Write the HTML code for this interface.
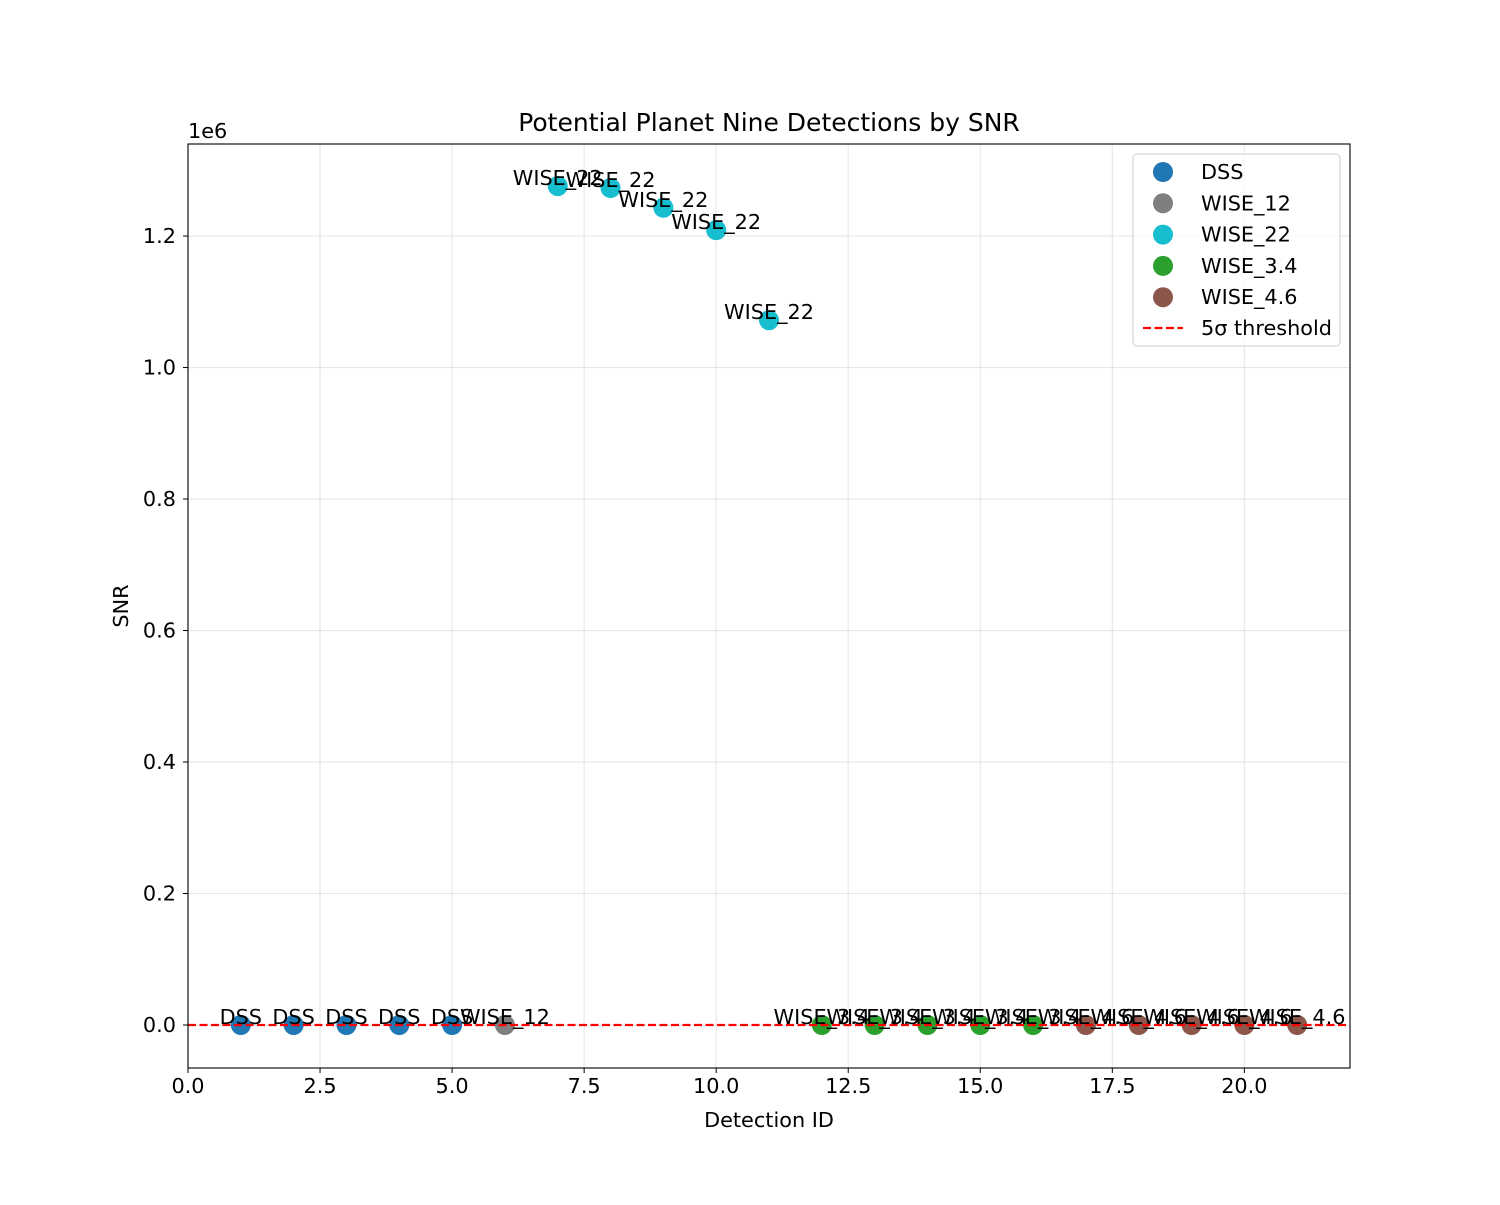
<!DOCTYPE html>
<html><head><meta charset="utf-8"><style>
body{margin:0;background:#fff;}
svg text{font-family:"DejaVu Sans","Liberation Sans",sans-serif;}
</style></head><body>
<svg id="chart" width="1500" height="1200" xmlns="http://www.w3.org/2000/svg">
<rect width="1500" height="1200" fill="#fff"/>
<g id="grid"></g>
<g id="plot"></g>
<rect x="188" y="144" width="1162" height="924" fill="none" stroke="#000" stroke-width="1.1"/>
<g id="axes"></g>
<text x="769" y="131" font-size="25" text-anchor="middle">Potential Planet Nine Detections by SNR</text>
<text x="769" y="1127" font-size="20.8" text-anchor="middle">Detection ID</text>
<text transform="translate(128,606) rotate(-90)" font-size="20.8" text-anchor="middle">SNR</text>
<text x="188" y="138" font-size="20.8">1e6</text>
<g id="legend"></g>
</svg>
<script>
const ids=[1,2,3,4,5,6,7,8,9,10,11,12,13,14,15,16,17,18,19,20,21];
const bands=["DSS","DSS","DSS","DSS","DSS","WISE_12","WISE_22","WISE_22","WISE_22","WISE_22","WISE_22","WISE_3.4","WISE_3.4","WISE_3.4","WISE_3.4","WISE_3.4","WISE_4.6","WISE_4.6","WISE_4.6","WISE_4.6","WISE_4.6"];
const snr=[8,8,8,8,8,6,1276000,1273000,1243000,1209000,1072000,10,10,10,10,10,8,8,8,8,8];
const legendBands=["DSS","WISE_12","WISE_22","WISE_3.4","WISE_4.6"];
const bandColors=["#1f77b4","#7f7f7f","#17becf","#2ca02c","#8c564b"];
const xTicks=[0,2.5,5,7.5,10,12.5,15,17.5,20];
const xTickLabels=["0.0","2.5","5.0","7.5","10.0","12.5","15.0","17.5","20.0"];
const yTicks=[0,0.2,0.4,0.6,0.8,1.0,1.2];
const yTickLabels=["0.0","0.2","0.4","0.6","0.8","1.0","1.2"];
const threshold=5;
const NS="http://www.w3.org/2000/svg";
const L=188,R=1350,T=144,B=1068,xMin=0,xMax=22,yMin=-0.0654e6,yMax=1.340e6;
const sx=v=>L+(v-xMin)/(xMax-xMin)*(R-L);
const sy=v=>B-(v-yMin)/(yMax-yMin)*(B-T);
function mk(p,tag,a){const e=document.createElementNS(NS,tag);for(const k in a)e.setAttribute(k,a[k]);p.appendChild(e);return e;}
const grid=document.getElementById('grid'),axes=document.getElementById('axes'),plot=document.getElementById('plot'),leg=document.getElementById('legend');
xTicks.forEach((t,i)=>{const x=sx(t);
 const g=mk(grid,'line',{x1:x,x2:x,y1:T,y2:B,stroke:'#b0b0b0','stroke-opacity':0.3,'stroke-width':1.1});
 
 const tk=mk(axes,'line',{x1:x,x2:x,y1:B,y2:B+5,stroke:'#000'});
 
 const tx=mk(axes,'text',{x:x,y:B+25,'font-size':20.8,'text-anchor':'middle'});tx.textContent=xTickLabels[i];
 });
yTicks.forEach((t,i)=>{const y=sy(t*1e6);
 const g=mk(grid,'line',{x1:L,x2:R,y1:y,y2:y,stroke:'#b0b0b0','stroke-opacity':0.3,'stroke-width':1.1});
 
 const tk=mk(axes,'line',{x1:L-5,x2:L,y1:y,y2:y,stroke:'#000'});
 
 const tx=mk(axes,'text',{x:L-12,y:y+7,'font-size':20.8,'text-anchor':'end'});tx.textContent=yTickLabels[i];
 });
ids.forEach((id,i)=>{const c=bandColors[legendBands.indexOf(bands[i])];
 const p=mk(plot,'circle',{cx:sx(id),cy:sy(snr[i]),r:10,fill:c});
 });
const th=mk(plot,'line',{x1:L,x2:R,y1:sy(threshold),y2:sy(threshold),stroke:'#ff0000','stroke-width':2.2,'stroke-dasharray':'8,3.5'});

ids.forEach((id,i)=>{const t=mk(plot,'text',{x:sx(id),y:sy(snr[i])-1,'font-size':20.8,'text-anchor':'middle'});t.textContent=bands[i];
 });
mk(leg,'rect',{x:1133,y:154,width:207,height:192,rx:4,fill:'#fff','fill-opacity':0.8,stroke:'#ccc'});
legendBands.forEach((b,i)=>{const y=172+i*31.3;
 const c=mk(leg,'circle',{cx:1163,cy:y,r:10,fill:bandColors[i]});
 
 const t=mk(leg,'text',{x:1201,y:y+7,'font-size':20.8});t.textContent=b;
 });
const ly=328;
const ll=mk(leg,'line',{x1:1143,x2:1183,y1:ly,y2:ly,stroke:'#ff0000','stroke-width':2.2,'stroke-dasharray':'8,3.5'});

const lt=mk(leg,'text',{x:1201,y:ly+7,'font-size':20.8});lt.textContent='5σ threshold';

</script>
</body></html>
